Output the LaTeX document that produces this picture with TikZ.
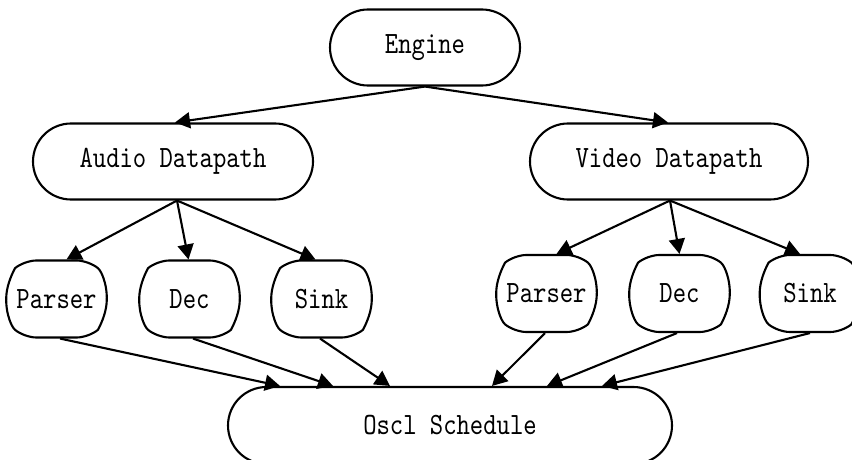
\documentclass[tikz,border=0pt]{standalone}
\usepackage{fontspec}
\newfontfamily\gvfont[FakeStretch=0.82]{lmmono10-regular.otf}
\usetikzlibrary{shapes.misc,arrows.meta}
\begin{document}
\begin{tikzpicture}[x=1pt,y=-1pt,
  every node/.style={font=\gvfont\fontsize{31}{34}\selectfont, draw, line width=2.1pt, inner sep=0pt},
  bigbox/.style={rounded rectangle, minimum height=76pt},
  smallbox/.style={rounded rectangle, rounded rectangle arc length=100, rounded corners=12pt, minimum height=77pt},
  edge/.style={line width=2.1pt, -{Triangle[length=15pt,width=16pt]}}]
\useasboundingbox (0,0) rectangle (852,460);
\node[bigbox, minimum width=190pt] (eng) at (425,47.5) {Engine};
\node[bigbox, minimum width=280pt] (aud) at (173,161.5) {Audio Datapath};
\node[bigbox, minimum width=278pt] (vid) at (669,161.5) {Video Datapath};
\node[smallbox, minimum width=97pt] (ap) at (56.5,299) {Parser};
\node[smallbox, minimum width=95pt] (ad) at (189.5,299) {Dec};
\node[smallbox, minimum width=93pt] (as) at (321.5,299) {Sink};
\node[smallbox, minimum width=97pt] (vp) at (546.5,293.5) {Parser};
\node[smallbox, minimum width=95pt] (vd) at (679.5,293.5) {Dec};
\node[smallbox, minimum width=95pt] (vs) at (810,293.5) {Sink};
\node[bigbox, minimum width=444pt, minimum height=77pt] (osc) at (450,425.5) {Oscl Schedule};
\draw[edge] (eng.south) -- ([xshift=2pt]aud.north);
\draw[edge] (eng.south) -- ([xshift=-1pt]vid.north);
\draw[edge] ([xshift=4pt]aud.south) -- ([xshift=10pt]ap.north);
\draw[edge] ([xshift=4pt]aud.south) -- ([xshift=-1pt]ad.north);
\draw[edge] ([xshift=4pt]aud.south) -- ([xshift=-6pt]as.north);
\draw[edge] ([xshift=1pt]vid.south) -- ([xshift=10pt]vp.north);
\draw[edge] ([xshift=1pt]vid.south) -- ([xshift=0pt]vd.north);
\draw[edge] ([xshift=1pt]vid.south) -- ([xshift=-10pt]vs.north);
\draw[edge] ([xshift=3.5pt]ap.south) -- ([xshift=-170pt]osc.north);
\draw[edge] ([xshift=3.5pt]ad.south) -- ([xshift=-117pt]osc.north);
\draw[edge] ([xshift=-1.5pt]as.south) -- ([xshift=-60pt]osc.north);
\draw[edge] ([xshift=-1.5pt]vp.south) -- ([xshift=42pt]osc.north);
\draw[edge] ([xshift=-2.5pt]vd.south) -- ([xshift=97pt]osc.north);
\draw[edge] (vs.south) -- ([xshift=152pt]osc.north);
\end{tikzpicture}
\end{document}
